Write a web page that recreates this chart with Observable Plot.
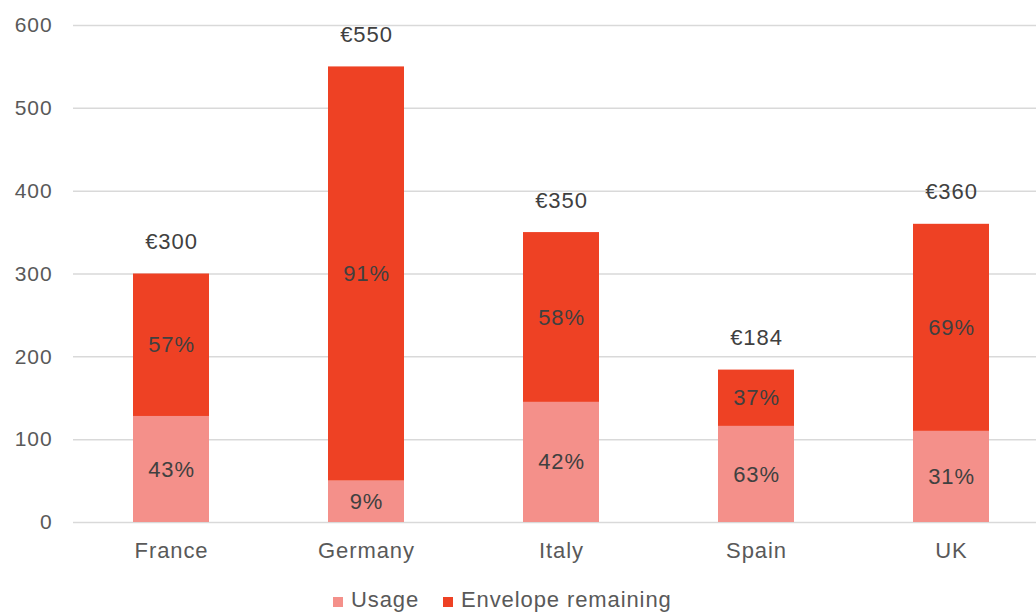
<!DOCTYPE html>
<html>
<head>
<meta charset="utf-8">
<script src="https://cdn.jsdelivr.net/npm/d3@7"></script>
<script src="https://cdn.jsdelivr.net/npm/@observablehq/plot@0.6"></script>
<style>
  body { margin: 0; background: #fff; font-family: "Liberation Sans", Arial, sans-serif; }
  #chart svg { display: block; }
  .legend { position: relative; height: 33px; font-size: 22px; letter-spacing: 0.9px; color: #595959; }
  .legend span.item { position: absolute; top: 7px; display: flex; align-items: center; }
  .legend span.sw { display: inline-block; width: 10px; height: 10px; margin-right: 8px; margin-top: 4px; }
</style>
</head>
<body>
<div id="chart"></div>
<div class="legend">
  <span class="item" style="left:333px"><span class="sw" style="background:#F4908A"></span>Usage</span>
  <span class="item" style="left:443px"><span class="sw" style="background:#EE4124"></span>Envelope remaining</span>
</div>
<script>
const countries = ["France", "Germany", "Italy", "Spain", "UK"];
const totals = [300, 550, 350, 184, 360];
const usage = [128, 50, 145, 116, 110];
const usagePct = ["43%", "9%", "42%", "63%", "31%"];
const remainingPct = ["57%", "91%", "58%", "37%", "69%"];
const totalLabels = ["€300", "€550", "€350", "€184", "€360"];
const seriesNames = ["Usage", "Envelope remaining"];
const yTicks = [0, 100, 200, 300, 400, 500, 600];

const rows = [];
countries.forEach((c, i) => {
  rows.push({country: c, series: seriesNames[0], value: usage[i], label: usagePct[i]});
  rows.push({country: c, series: seriesNames[1], value: totals[i] - usage[i], label: remainingPct[i]});
});

const chart = Plot.plot({
  width: 1036,
  height: 580,
  marginTop: 25,
  marginBottom: 58,
  marginLeft: 73,
  marginRight: 0,
  style: {fontFamily: "'Liberation Sans', Arial, sans-serif", fontSize: "22px", color: "#595959", letterSpacing: "0.9px", overflow: "visible"},
  x: {domain: countries, range: [73.4, 1049.6], paddingInner: 0.61, paddingOuter: 0.305, label: null},
  y: {domain: [0, 600], label: null},
  color: {domain: seriesNames, range: ["#F4908A", "#EE4124"]},
  marks: [
    Plot.gridY(yTicks, {stroke: "#d9d9d9", strokeOpacity: 1, strokeWidth: 1.5}),
    Plot.barY(rows, {x: "country", y: "value", fill: "series"}),
    Plot.text(rows, Plot.stackY({x: "country", y: "value", text: "label", fill: "#404040", fontSize: 22})),
    Plot.text(totals, {x: countries, y: totals, text: totalLabels, dy: -32, fill: "#404040", fontSize: 22}),
    Plot.axisY(yTicks, {tickSize: 0, tickPadding: 21, fontSize: 21}),
    Plot.axisX({tickSize: 0, tickPadding: 20, fontSize: 22})
  ]
});
document.getElementById("chart").appendChild(chart);
</script>
</body>
</html>
